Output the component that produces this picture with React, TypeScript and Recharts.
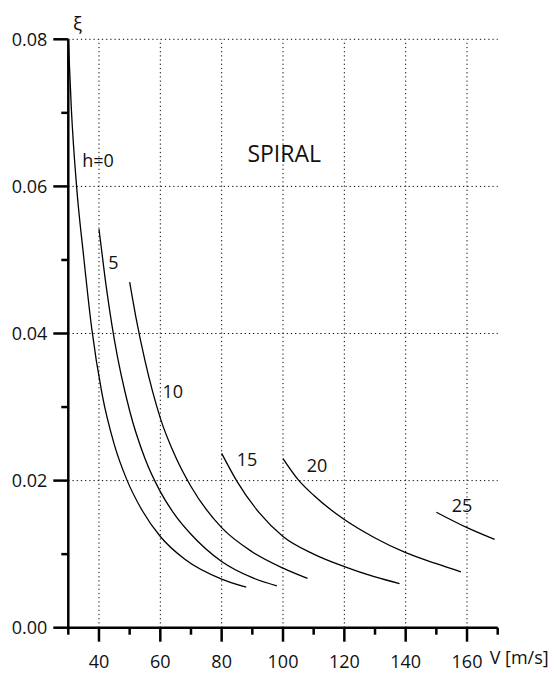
import React from 'react';
import { LineChart, Line, XAxis, YAxis, ReferenceLine, ReferenceDot } from 'recharts';

// axis ticks (major ones get a label)
const xTicks = [30, 40, 50, 60, 70, 80, 90, 100, 110, 120, 130, 140, 150, 160, 170];
const xMajor = [40, 60, 80, 100, 120, 140, 160];
const yTicks = [0, 0.01, 0.02, 0.03, 0.04, 0.05, 0.06, 0.07, 0.08];
const yMajor = [0, 0.02, 0.04, 0.06, 0.08];
const gridX = [40, 60, 80, 100, 120, 140, 160];
const gridY = [0.02, 0.04, 0.06, 0.08];

// curves, V [m/s] -> xi
const h0 = [
  { v: 30, xi: 0.08 }, { v: 31, xi: 0.0705 }, { v: 32.7, xi: 0.06 }, { v: 35, xi: 0.0505 },
  { v: 37.6, xi: 0.0408 }, { v: 41, xi: 0.0318 }, { v: 45, xi: 0.0249 }, { v: 49, xi: 0.0202 },
  { v: 54, xi: 0.016 }, { v: 60, xi: 0.0124 }, { v: 68, xi: 0.0093 }, { v: 80, xi: 0.0066 },
  { v: 88, xi: 0.0055 },
];
const h5 = [
  { v: 40, xi: 0.0542 }, { v: 42, xi: 0.0475 }, { v: 45, xi: 0.0392 }, { v: 50, xi: 0.0295 },
  { v: 55, xi: 0.023 }, { v: 60, xi: 0.0185 }, { v: 65, xi: 0.0152 }, { v: 70, xi: 0.0127 },
  { v: 80, xi: 0.009 }, { v: 90, xi: 0.0068 }, { v: 98, xi: 0.0057 },
];
const h10 = [
  { v: 50, xi: 0.047 }, { v: 52, xi: 0.0423 }, { v: 55, xi: 0.0363 }, { v: 60, xi: 0.0285 },
  { v: 65, xi: 0.0232 }, { v: 70, xi: 0.0192 }, { v: 80, xi: 0.0136 }, { v: 90, xi: 0.0103 },
  { v: 100, xi: 0.0081 }, { v: 108, xi: 0.0067 },
];
const h15 = [
  { v: 80, xi: 0.0237 }, { v: 85, xi: 0.0199 }, { v: 92.5, xi: 0.0155 }, { v: 100, xi: 0.0124 },
  { v: 110, xi: 0.01 }, { v: 120, xi: 0.0083 }, { v: 130, xi: 0.0069 }, { v: 138, xi: 0.006 },
];
const h20 = [
  { v: 100, xi: 0.023 }, { v: 105, xi: 0.0201 }, { v: 110, xi: 0.018 }, { v: 120, xi: 0.0147 },
  { v: 130, xi: 0.0122 }, { v: 140, xi: 0.0102 }, { v: 150, xi: 0.0087 }, { v: 158, xi: 0.0076 },
];
const h25 = [
  { v: 150, xi: 0.0157 }, { v: 160, xi: 0.0136 }, { v: 169, xi: 0.012 },
];
const curves = [h0, h5, h10, h15, h20, h25];

const curveLabels = [
  { text: 'h=0', v: 39.7, xi: 0.0635 },
  { text: '5', v: 44.7, xi: 0.0496 },
  { text: '10', v: 64.1, xi: 0.0321 },
  { text: '15', v: 88.3, xi: 0.0228 },
  { text: '20', v: 111.1, xi: 0.022 },
  { text: '25', v: 158.4, xi: 0.0166 },
];

const FONT = '"Open Sans", sans-serif';

const XTick = ({ x, y, payload }: any) => {
  const major = xMajor.includes(payload.value);
  return (
    <g>
      <line x1={x} x2={x} y1={y} y2={y + (major ? 14 : 7)} stroke="#000" strokeWidth={2.5} />
      {major && (
        <text x={x} y={y + 40} textAnchor="middle" fontSize={18} fill="#111">
          {payload.value}
        </text>
      )}
    </g>
  );
};

const YTick = ({ x, y, payload }: any) => {
  const major = yMajor.includes(payload.value);
  return (
    <g>
      <line x1={x - (major ? 15 : 7)} x2={x} y1={y} y2={y} stroke="#000" strokeWidth={2.5} />
      {major && (
        <text x={x - 21} y={y} dy="0.36em" textAnchor="end" fontSize={18} fill="#111">
          {payload.value.toFixed(2)}
        </text>
      )}
    </g>
  );
};

export default function App() {
  return (
    <div style={{ position: 'absolute', left: 0, top: 0, fontFamily: FONT, background: '#fff' }}>
      <LineChart width={557} height={675} margin={{ top: 39.3, right: 59.3, bottom: 0, left: 0 }}>
        <XAxis
          type="number"
          dataKey="v"
          domain={[30, 170]}
          ticks={xTicks}
          tick={<XTick />}
          tickSize={0}
          tickMargin={0}
          height={47.3}
          axisLine={{ stroke: '#000', strokeWidth: 2.5 }}
          allowDataOverflow
        />
        <YAxis
          type="number"
          domain={[0, 0.08]}
          ticks={yTicks}
          tick={<YTick />}
          tickSize={0}
          tickMargin={0}
          width={68.3}
          axisLine={{ stroke: '#000', strokeWidth: 2.5 }}
          allowDataOverflow
        />
        {gridX.map((g) => (
          <ReferenceLine key={'gx' + g} x={g} stroke="#000" strokeWidth={1} strokeDasharray="1.2 3" />
        ))}
        {gridY.map((g) => (
          <ReferenceLine key={'gy' + g} y={g} stroke="#000" strokeWidth={1} strokeDasharray="1.2 3" />
        ))}
        {curves.map((c, i) => (
          <Line
            key={i}
            data={c}
            dataKey="xi"
            type="monotone"
            dot={false}
            stroke="#000"
            strokeWidth={1.3}
            isAnimationActive={false}
          />
        ))}
        {curveLabels.map((l) => (
          <ReferenceDot
            key={l.text}
            x={l.v}
            y={l.xi}
            r={0}
            fill="none"
            stroke="none"
            label={{ value: l.text, position: 'center', fontSize: 18, fill: '#111' }}
          />
        ))}
        <ReferenceDot
          x={100.4}
          y={0.0644}
          r={0}
          fill="none"
          stroke="none"
          label={{ value: 'SPIRAL', position: 'center', fontSize: 23, fill: '#111' }}
        />
        <ReferenceDot
          x={33}
          y={0.0822}
          r={0}
          fill="none"
          stroke="none"
          ifOverflow="visible"
          label={{ value: 'ξ', position: 'center', fontSize: 19, fill: '#111' }}
        />
        <ReferenceDot
          x={177}
          y={-0.0041}
          r={0}
          fill="none"
          stroke="none"
          ifOverflow="visible"
          label={{ value: 'V [m/s]', position: 'center', fontSize: 18, fill: '#111' }}
        />
      </LineChart>
    </div>
  );
}
